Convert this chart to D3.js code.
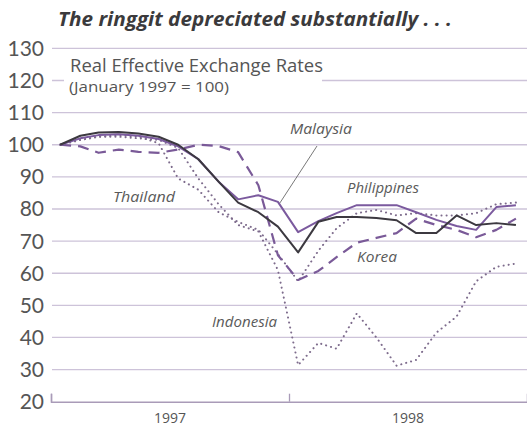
<!DOCTYPE html>
<html>
<head>
<meta charset="utf-8">
<script src="https://cdn.jsdelivr.net/npm/d3@7"></script>
<style>
  body { margin: 0; background: #fff; }
  svg { display: block; }
</style>
</head>
<body>
<script>
'use strict'

const width = 527
const height = 428

// monthly, Jan 1997 .. Dec 1998
const months = d3.range(24).map(i => new Date(1997, i, 15))

const malaysia = [100, 102, 103, 103.3, 102.8, 101.8, 99.5, 95.5, 88.5, 83, 84.3, 82.2,
    72.8, 76.2, 78.7, 81.2, 81.2, 81.2, 79, 76.6, 74.7, 73.5, 80.6, 81.2]
const philippines = [100, 102.8, 103.8, 104, 103.5, 102.5, 100, 95.5, 88.5, 82, 79, 74.5,
    66.5, 76, 77.5, 77.5, 77.2, 76.5, 72.5, 72.5, 78, 75, 75.6, 75]
const korea = [100, 99.5, 97.5, 98.5, 97.8, 97.5, 98.5, 100, 99.6, 97.7, 87.4, 65.6,
    57.9, 60.7, 65, 69.5, 71, 72.5, 77, 75, 73.5, 71.2, 73.5, 77]
const thailand = [100, 101.5, 102.5, 103, 102.5, 100.5, 89.5, 86, 79, 76, 73.5, 66,
    57.5, 67, 74, 78.7, 79.7, 78, 78.7, 78, 78, 78.7, 81.5, 82]
const indonesia = [100, 101.5, 102.5, 102.5, 102, 101.5, 99, 89.5, 81.5, 75, 73, 61,
    31.4, 38.3, 36.5, 47.5, 40, 31.2, 33, 41.5, 46.5, 57.5, 62, 63]

const yTicks = [20, 30, 40, 50, 60, 70, 80, 90, 100, 110, 120, 130]
const years = [1997, 1998]

const x = d3.scaleTime()
    .domain([new Date(1997, 0, 1), new Date(1999, 0, 1)])
    .range([51, 527])
const y = d3.scaleLinear().domain([20, 130]).range([401.7, 48.4])

const svg = d3.select('body').append('svg')
    .attr('width', width).attr('height', height)
    .style('font-family', '"Open Sans", Lato, sans-serif')

// title
svg.append('text')
    .attr('x', 58).attr('y', 26)
    .attr('font-size', 19).attr('font-weight', 'bold').attr('font-style', 'italic')
    .attr('fill', '#3b3a3c')
    .attr('textLength', 394).attr('lengthAdjust', 'spacingAndGlyphs')
    .text('The ringgit depreciated substantially . . .')

// gridlines
svg.append('g').selectAll('line')
    .data(yTicks.filter(d => d > 20))
    .join('line')
    .attr('x1', 52).attr('x2', width)
    .attr('y1', d => y(d)).attr('y2', d => y(d))
    .attr('stroke', '#cdc3d9').attr('stroke-width', 1.3)

// y labels
svg.append('g').selectAll('text')
    .data(yTicks)
    .join('text')
    .attr('x', 44).attr('y', d => y(d) + 7.5)
    .attr('text-anchor', 'end')
    .attr('font-family', 'Lato, sans-serif')
    .attr('font-size', 21).attr('fill', '#555')
    .text(d => d)

// bottom axis
const xAxis = d3.axisBottom(x)
    .tickValues([new Date(1997, 0, 1), new Date(1998, 0, 1)])
    .tickSize(-8)
    .tickFormat('')
svg.append('g')
    .attr('transform', `translate(0,${y(20)})`)
    .call(xAxis)
    .call(g => g.select('.domain').attr('stroke', '#a99bb8').attr('stroke-width', 1.5))
    .call(g => g.selectAll('.tick line').attr('stroke', '#a99bb8').attr('stroke-width', 1.3))

svg.append('g').selectAll('text')
    .data(years)
    .join('text')
    .attr('x', d => (x(new Date(d, 0, 1)) + x(new Date(d + 1, 0, 1))) / 2)
    .attr('y', 423)
    .attr('text-anchor', 'middle')
    .attr('font-size', 14).attr('fill', '#555')
    .text(d => d)

// subtitle box covers the 120 gridline
svg.append('rect')
    .attr('x', 64).attr('y', 55).attr('width', 258).attr('height', 42)
    .attr('fill', '#fff')
svg.append('text')
    .attr('x', 70).attr('y', 72)
    .attr('font-size', 18).attr('fill', '#555')
    .attr('textLength', 253).attr('lengthAdjust', 'spacingAndGlyphs')
    .text('Real Effective Exchange Rates')
svg.append('text')
    .attr('x', 69).attr('y', 92)
    .attr('font-size', 14).attr('fill', '#555')
    .attr('textLength', 160).attr('lengthAdjust', 'spacingAndGlyphs')
    .text('(January 1997 = 100)')

const line = d3.line()
    .x((d, i) => x(months[i]))
    .y(d => y(d))

const series = [
    { values: indonesia, color: '#7d6b8c', width: 2, dash: '0.1 5', cap: 'round' },
    { values: thailand, color: '#7d6b8c', width: 2, dash: '0.1 5', cap: 'round' },
    { values: korea, color: '#7a5a98', width: 2.2, dash: '11 7', cap: 'butt' },
    { values: malaysia, color: '#7b5a9e', width: 2, dash: null, cap: 'butt' },
    { values: philippines, color: '#3c3940', width: 2, dash: null, cap: 'butt' }
]

svg.append('g').selectAll('path')
    .data(series)
    .join('path')
    .attr('d', d => line(d.values))
    .attr('fill', 'none')
    .attr('stroke', d => d.color)
    .attr('stroke-width', d => d.width)
    .attr('stroke-dasharray', d => d.dash)
    .attr('stroke-linecap', d => d.cap)
    .attr('stroke-linejoin', 'round')

// Malaysia leader line
svg.append('line')
    .attr('x1', 317).attr('y1', 146)
    .attr('x2', x(months[11]) + 2).attr('y2', y(malaysia[11]) + 1)
    .attr('stroke', '#555').attr('stroke-width', 0.8)

const labels = [
    { text: 'Malaysia', x: 290, y: 134, w: 62 },
    { text: 'Philippines', x: 347, y: 193, w: 72 },
    { text: 'Thailand', x: 113, y: 202, w: 62 },
    { text: 'Korea', x: 357, y: 262, w: 40 },
    { text: 'Indonesia', x: 212, y: 327, w: 65 }
]
svg.append('g').selectAll('text')
    .data(labels)
    .join('text')
    .attr('x', d => d.x).attr('y', d => d.y)
    .attr('font-size', 14.5).attr('font-style', 'italic').attr('fill', '#5a5a5a')
    .attr('textLength', d => d.w).attr('lengthAdjust', 'spacingAndGlyphs')
    .text(d => d.text)
</script>
</body>
</html>
